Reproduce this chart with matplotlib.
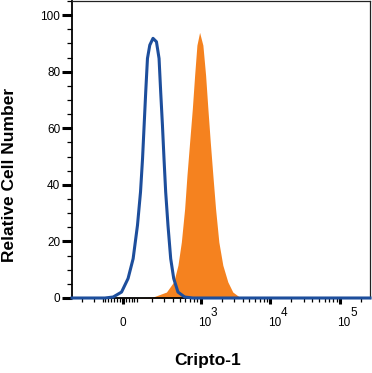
import matplotlib
matplotlib.use("Agg")
import matplotlib.pyplot as plt
from matplotlib.ticker import MultipleLocator, FixedLocator, NullFormatter

plt.rcParams['font.family'] = ['Liberation Sans', 'DejaVu Sans']

# ---- data (fluorescence intensity vs relative cell number) ----
isotype_x = [-412, -124, -67, -9, 36, 71, 101, 122, 136, 147, 158, 170, 186, 208,
             233, 254, 268, 284, 299, 316, 341, 373, 412, 474, 591, 777, 268000]
isotype_y = [0, 0, 0.35, 2.1, 6.9, 13.9, 25.7, 37.5, 49.3, 61.1, 72.9, 84.7, 89.4, 91.8,
             90.6, 84.7, 72.9, 61.1, 49.3, 37.5, 25.7, 13.9, 6.9, 2.1, 0.35, 0, 0]

cripto_x = [-412, -90, 71, 208, 324, 412, 474, 530, 591, 638, 697, 762, 822, 886, 968,
            1079, 1180, 1272, 1377, 1500, 1639, 1827, 2084, 2457, 2896, 3610, 4256, 268000]
cripto_y = [0, 0, 0, 0.35, 2.1, 5.7, 11.6, 19.8, 31.6, 43.4, 55.2, 67.0, 78.8, 89.4, 93.9,
            89.4, 78.8, 67.0, 55.2, 43.4, 31.6, 19.8, 11.6, 5.7, 2.1, 0.35, 0, 0]

x_major = [0, 1000, 10000, 100000]
x_labels = ["0", "10", "10", "10"]
x_exponents = ["", "3", "4", "5"]
x_minor = ([-300, -200] + list(range(-140, 100, 20)) + list(range(100, 1000, 100))
           + list(range(2000, 10000, 1000)) + list(range(20000, 100000, 10000)) + [200000])
y_major = [0, 20, 40, 60, 80, 100]

orange = "#F5821F"
blue = "#1D4E9C"

fig = plt.figure(figsize=(3.72, 3.73), dpi=100)
ax = fig.add_axes([72/372, 1 - 298/373, 298/372, 297/373])

ax.fill_between(cripto_x, 0, cripto_y, color=orange, linewidth=0, zorder=2)
ax.plot(isotype_x, isotype_y, color=blue, linewidth=2.2, zorder=4, clip_on=False,
        solid_joinstyle='round')

ax.set_xscale('symlog', linthresh=200, linscale=0.3735)
ax.set_xlim(-412, 268000)
ax.set_ylim(0, 105)

ax.xaxis.set_major_locator(FixedLocator(x_major))
ax.xaxis.set_minor_locator(FixedLocator(x_minor))
ax.set_xticklabels([""] * len(x_major))
ax.xaxis.set_minor_formatter(NullFormatter())
ax.tick_params(axis='x', which='major', direction='out', length=4.5, width=2.2, color='black')
ax.tick_params(axis='x', which='minor', direction='out', length=3, width=0.9, color='black')

ax.yaxis.set_major_locator(FixedLocator(y_major))
ax.yaxis.set_minor_locator(MultipleLocator(5))
ax.tick_params(axis='y', which='major', direction='out', length=7, width=2.2,
               labelsize=8.5, pad=1.5, color='black')
ax.tick_params(axis='y', which='minor', direction='out', length=3.5, width=0.9, color='black')

for sp in ax.spines.values():
    sp.set_linewidth(0.9)
    sp.set_color('#222222')
ax.spines['left'].set_linewidth(1.3)
ax.spines['bottom'].set_linewidth(1.3)
ax.spines['left'].set_color('black')
ax.spines['bottom'].set_color('black')

# x tick labels with full-size raised exponents
for xv, lab, ex in zip(x_major, x_labels, x_exponents):
    dx = 0 if ex == "" else 4
    ax.annotate(lab, xy=(xv, 0), xycoords=('data', 'axes fraction'),
                xytext=(dx, -25.5), textcoords='offset pixels',
                ha='center', va='center', fontsize=8.5, annotation_clip=False)
    if ex:
        ax.annotate(ex, xy=(xv, 0), xycoords=('data', 'axes fraction'),
                    xytext=(13.5, -15.5), textcoords='offset pixels',
                    ha='center', va='center', fontsize=8.5, annotation_clip=False)

fig.text(208/372, 1 - 360/373, "Cripto-1", ha='center', va='center',
         fontsize=12.5, fontweight='bold')
fig.text(10/372, 1 - 175/373, "Relative Cell Number", ha='center', va='center',
         rotation=90, fontsize=12.5, fontweight='bold')

fig.savefig("out.png", dpi=100)
